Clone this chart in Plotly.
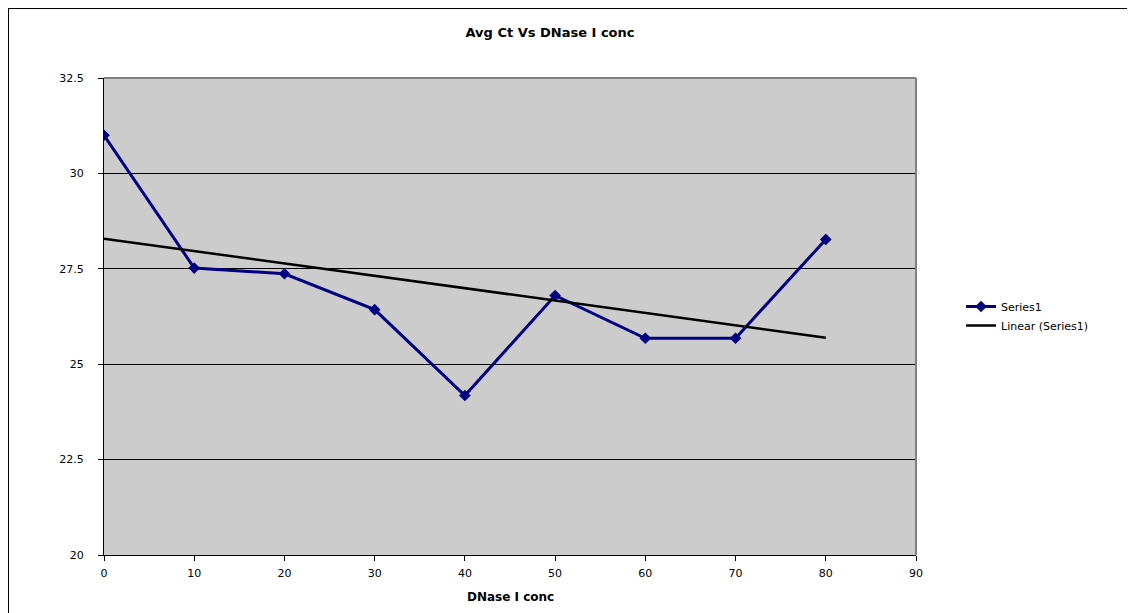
import numpy as np
import plotly.graph_objects as go

conc = [0, 10, 20, 30, 40, 50, 60, 70, 80]
avg_ct = [31.0, 27.52, 27.37, 26.43, 24.18, 26.8, 25.68, 25.68, 28.27]
x_ticks = [0, 10, 20, 30, 40, 50, 60, 70, 80, 90]
y_ticks = [20, 22.5, 25, 27.5, 30, 32.5]
y_tick_labels = ["20", "22.5", "25", "27.5", "30", "32.5"]

slope, intercept = np.polyfit(conc, avg_ct, 1)
trend = [slope * c + intercept for c in conc]

OFF = 8  # page body margin
W, H = 1135 - OFF, 613 - OFF
# plot area in page pixels
PL, PR, PT, PB = 104, 916, 78, 555
L, R, T, B = PL - OFF, PR - OFF, PT - OFF, PB - OFF

fig = go.Figure()
fig.add_trace(go.Scatter(
    x=conc, y=avg_ct, mode="lines+markers", name="Series1",
    line=dict(color="#000080", width=3),
    marker=dict(symbol="diamond", size=9, color="#000080"),
))
fig.add_trace(go.Scatter(
    x=[conc[0], conc[-1]], y=[trend[0], trend[-1]], mode="lines",
    name="Linear (Series1)", line=dict(color="#000000", width=2.5),
))

def px2x(p):
    return (p - PL) / (PR - PL)

def py2y(p):
    return (PB - p) / (PB - PT)

fig.update_layout(
    width=W, height=H,
    margin=dict(l=L, r=W - R, t=T, b=H - B, pad=0),
    paper_bgcolor="white",
    plot_bgcolor="#cccccc",
    font=dict(family="DejaVu Sans, Verdana, sans-serif", size=11, color="black"),
    title=dict(text="<b>Avg Ct Vs DNase I conc</b>", font=dict(size=13),
               x=px2x(550), xref="paper", xanchor="center",
               y=1 - (32 - OFF) / H, yref="container", yanchor="middle"),
    showlegend=True,
    legend=dict(x=px2x(961), y=py2y(316), xanchor="left", yanchor="middle",
                bgcolor="rgba(0,0,0,0)", font=dict(size=11), tracegroupgap=0),
    xaxis=dict(range=[0, 90], tickvals=x_ticks, showgrid=False, zeroline=False,
               showline=True, linecolor="black", linewidth=1,
               ticks="outside", ticklen=5, tickcolor="black", fixedrange=True,
               tickfont=dict(size=11), ticklabelstandoff=3),
    yaxis=dict(range=[20, 32.5], tickvals=y_ticks, ticktext=y_tick_labels,
               showgrid=True, gridcolor="black", gridwidth=1, zeroline=False,
               showline=True, linecolor="black", linewidth=1,
               ticks="outside", ticklen=5, tickcolor="black", fixedrange=True,
               tickfont=dict(size=11), ticklabelstandoff=12),
    shapes=[
        dict(type="rect", xref="paper", yref="paper",
             x0=px2x(8), y0=py2y(660), x1=px2x(1180), y1=py2y(8),
             line=dict(color="black", width=2), fillcolor="rgba(0,0,0,0)", layer="below"),
        dict(type="line", xref="paper", yref="paper", x0=0, x1=1, y0=1, y1=1,
             line=dict(color="#808080", width=2)),
        dict(type="line", xref="paper", yref="paper", x0=1, x1=1, y0=0, y1=1,
             line=dict(color="#808080", width=2)),
    ],
    annotations=[
        dict(text="<b>DNase I conc</b>", xref="paper", yref="paper",
             x=0.5, y=py2y(597), xanchor="center", yanchor="middle",
             showarrow=False, font=dict(size=12)),
    ],
)

fig.write_html("out.html")
